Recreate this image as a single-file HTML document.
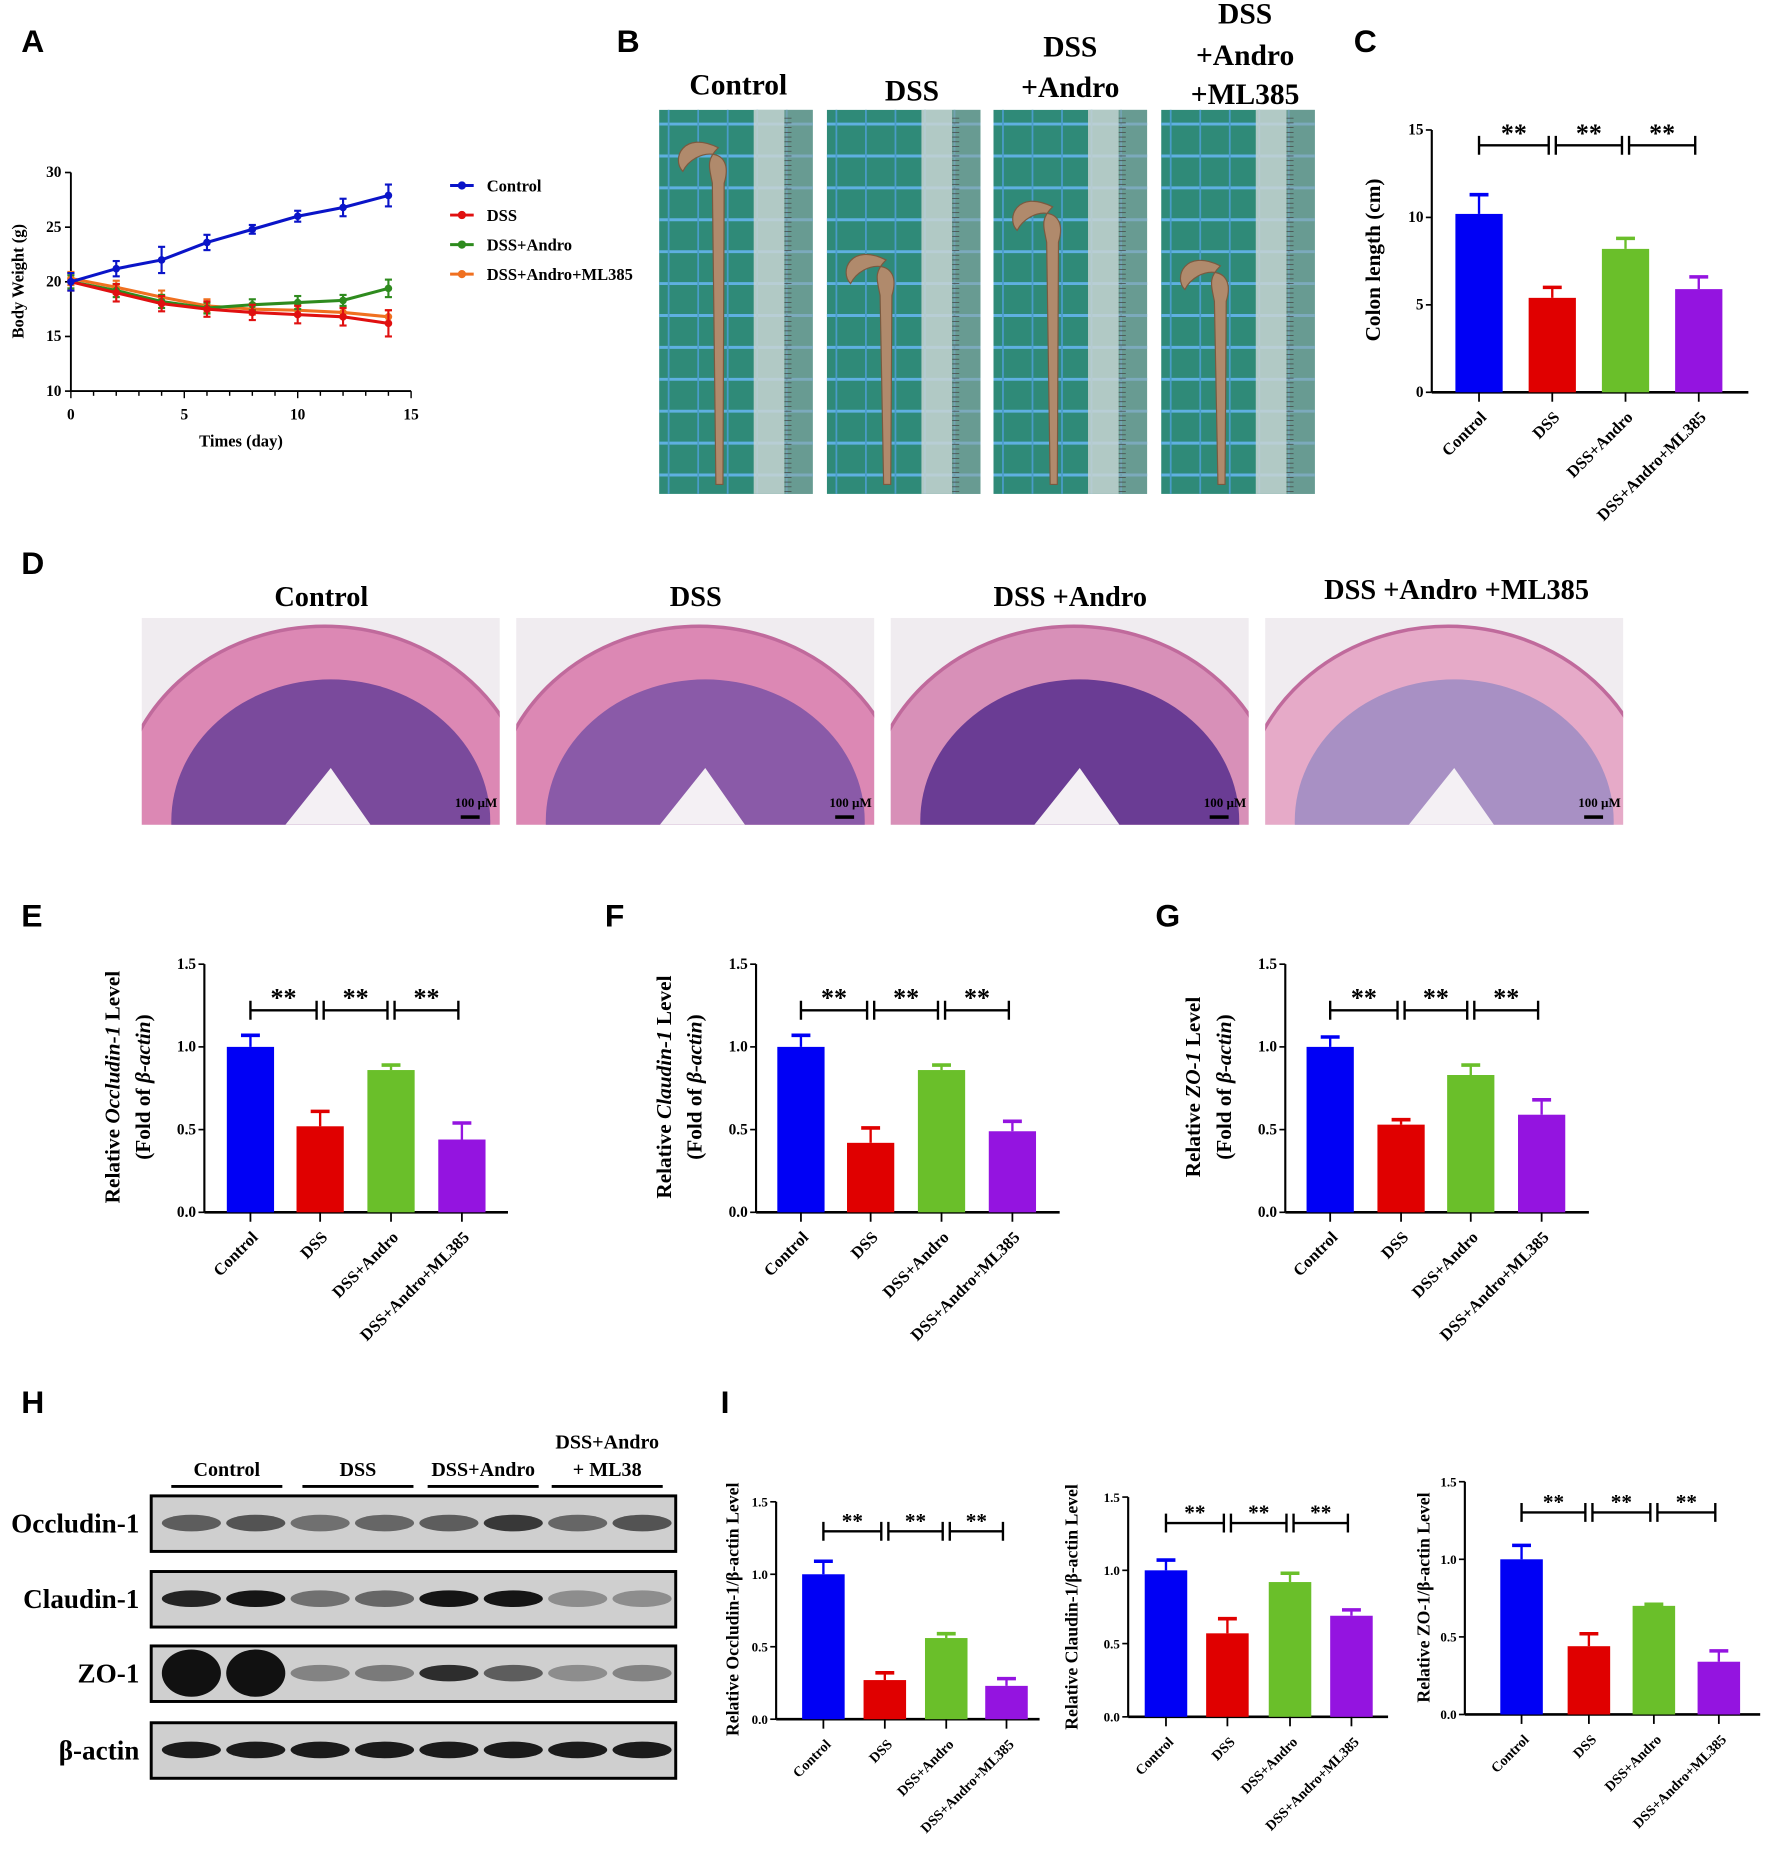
<!DOCTYPE html>
<html><head><meta charset="utf-8"><style>
html,body{margin:0;padding:0;background:#fff;}
svg{display:block;font-family:"Liberation Serif",serif;}
.pl{font-family:"Liberation Sans",sans-serif;font-weight:bold;font-size:27px;}
.tt{font-weight:bold;font-size:25px;}
.tk{font-weight:bold;font-size:13px;}
.lb{font-weight:bold;font-size:15px;}
</style></head><body>
<svg id="fig" width="1772" height="1861" viewBox="0 0 1500 1575" preserveAspectRatio="none" xmlns="http://www.w3.org/2000/svg">
<rect width="1500" height="1575" fill="#fff"/>
<text class="pl" x="18" y="44">A</text>
<text class="pl" x="522" y="44">B</text>
<text class="pl" x="1146" y="44">C</text>
<text class="pl" x="18" y="486">D</text>
<text class="pl" x="18" y="784">E</text>
<text class="pl" x="512" y="784">F</text>
<text class="pl" x="978" y="784">G</text>
<text class="pl" x="18" y="1196">H</text>
<text class="pl" x="610" y="1196">I</text>

<g class="tt" text-anchor="middle">
<text x="625" y="80">Control</text>
<text x="772" y="85">DSS</text>
<text x="906" y="48">DSS</text>
<text x="906" y="82">+Andro</text>
<text x="1054" y="20">DSS</text>
<text x="1054" y="55">+Andro</text>
<text x="1054" y="88">+ML385</text>
</g>
<g id="photos"></g>

<g class="tt" text-anchor="middle" style="font-size:24px">
<text x="272" y="513">Control</text>
<text x="589" y="513">DSS</text>
<text x="906" y="513">DSS +Andro</text>
<text x="1233" y="507">DSS +Andro +ML385</text>
</g>
<g id="histo"></g>

<g id="blot"></g>

<g id="charts"></g>
</svg>
<script>
const NS="http://www.w3.org/2000/svg";
function mk(parent,tag,attrs,text){const e=document.createElementNS(NS,tag);for(const k in attrs)e.setAttribute(k,attrs[k]);if(text!==undefined)e.textContent=text;parent.appendChild(e);return e;}
const charts=document.getElementById('charts');
const COLORS=['#0000f5','#e00000','#6abf2a','#9414e0'];

const daysA=[0,2,4,6,8,10,12,14];
const ctrlA=[20,21.2,22,23.6,24.8,26,26.8,27.9];
const ctrlErrA=[0.8,0.7,1.2,0.7,0.4,0.5,0.8,1.0];
const dssA=[20,19,18,17.5,17.2,17,16.8,16.2];
const dssErrA=[0.8,0.8,0.7,0.7,0.7,0.8,0.8,1.2];
const androA=[20,19.2,18.2,17.6,17.9,18.1,18.3,19.4];
const androErrA=[0.6,0.6,0.6,0.5,0.5,0.6,0.5,0.8];
const mlA=[20.3,19.5,18.6,17.8,17.5,17.4,17.2,16.8];
const mlErrA=[0.6,0.6,0.6,0.6,0.5,0.5,0.5,0.6];
const seriesNamesA=['Control','DSS','DSS+Andro','DSS+Andro+ML385'];
const yTicksA=[10,15,20,25,30];
const xTicksA=[0,5,10,15];

const cats=['Control','DSS','DSS+Andro','DSS+Andro+ML385'];
const valsC=[10.2,5.4,8.2,5.9]; const errC=[1.1,0.6,0.6,0.7]; const ticksC=[0,5,10,15];
const valsE=[1.0,0.52,0.86,0.44]; const errE=[0.07,0.09,0.03,0.1];
const valsF=[1.0,0.42,0.86,0.49]; const errF=[0.07,0.09,0.03,0.06];
const valsG=[1.0,0.53,0.83,0.59]; const errG=[0.06,0.03,0.06,0.09];
const valsI1=[1.0,0.27,0.56,0.23]; const errI1=[0.09,0.05,0.03,0.05];
const valsI2=[1.0,0.57,0.92,0.69]; const errI2=[0.07,0.1,0.06,0.04];
const valsI3=[1.0,0.44,0.70,0.34]; const errI3=[0.09,0.08,0.01,0.07];
const ticks15=[0,0.5,1.0,1.5];

(function(){
  const g=mk(charts,'g',{});
  
  
  const x0=60,x1=348,y0=331,y1=146;
  const X=d=>x0+(d-0)/15*(x1-x0), Y=v=>y0-(v-10)/20*(y0-y1);
  mk(g,'line',{x1:x0,y1:y1,x2:x0,y2:y0,stroke:'#000','stroke-width':1.6});
  mk(g,'line',{x1:x0,y1:y0,x2:x1,y2:y0,stroke:'#000','stroke-width':1.6});
  yTicksA.forEach(t=>{mk(g,'line',{x1:x0-5,y1:Y(t),x2:x0,y2:Y(t),stroke:'#000','stroke-width':1.4});
    mk(g,'text',{x:x0-8,y:Y(t)+4,'text-anchor':'end',class:'tk'},t);});
  for(let d=0;d<=15;d++){mk(g,'line',{x1:X(d),y1:y0,x2:X(d),y2:y0+(d%5==0?6:4),stroke:'#000','stroke-width':1.2});}
  xTicksA.forEach(t=>mk(g,'text',{x:X(t),y:y0+24,'text-anchor':'middle',class:'tk'},t));
  mk(g,'text',{x:204,y:378,'text-anchor':'middle',class:'lb',style:'font-size:14px'},'Times (day)');
  mk(g,'text',{x:0,y:0,'text-anchor':'middle',class:'lb',style:'font-size:14px',transform:'translate(20,238) rotate(-90)'},'Body Weight (g)');
  const sets=[[mlA,mlErrA,'#f07020'],[androA,androErrA,'#2e8b1e'],[dssA,dssErrA,'#e01010'],[ctrlA,ctrlErrA,'#0a14c8']];
  sets.forEach(([v,e,c],si)=>{
    const pts=daysA.map((d,i)=>X(d)+','+Y(v[i])).join(' ');
    const pl=mk(g,'polyline',{points:pts,fill:'none',stroke:c,'stroke-width':2.6});
    
    
    daysA.forEach((d,i)=>{
      const cx=X(d),cy=Y(v[i]);
      mk(g,'line',{x1:cx,y1:Y(v[i]+e[i]),x2:cx,y2:Y(v[i]-e[i]),stroke:c,'stroke-width':1.8});
      mk(g,'line',{x1:cx-3,y1:Y(v[i]+e[i]),x2:cx+3,y2:Y(v[i]+e[i]),stroke:c,'stroke-width':1.8});
      mk(g,'line',{x1:cx-3,y1:Y(v[i]-e[i]),x2:cx+3,y2:Y(v[i]-e[i]),stroke:c,'stroke-width':1.8});
      const p=mk(g,'circle',{cx:cx,cy:cy,r:3.2,fill:c});
      
      
    });
  });
  const lc=['#0a14c8','#e01010','#2e8b1e','#f07020'];
  seriesNamesA.forEach((n,i)=>{
    const y=157+i*25;
    const le=mk(g,'g',{});
    
    
    mk(le,'line',{x1:381,y1:y,x2:401,y2:y,stroke:lc[i],'stroke-width':2.5});
    mk(le,'circle',{cx:391,cy:y,r:3.5,fill:lc[i]});
    mk(le,'text',{x:412,y:y+5,class:'tk',style:'font-size:14px'},n);
  });
})();

function bar(cfg,vals,errs,ticks,name){
  const g=mk(charts,'g',{});
  
  
  const {ax,y0,y1,xEnd,cx,bw,max,bY,starSize,tickFs,labFs}=cfg;
  const Y=v=>y0-v/max*(y0-y1);
  mk(g,'line',{x1:ax,y1:y1,x2:ax,y2:y0,stroke:'#000','stroke-width':1.8});
  mk(g,'line',{x1:ax,y1:y0,x2:xEnd,y2:y0,stroke:'#000','stroke-width':2.2});
  ticks.forEach(t=>{mk(g,'line',{x1:ax-5,y1:Y(t),x2:ax,y2:Y(t),stroke:'#000','stroke-width':1.4});
    mk(g,'text',{x:ax-7,y:Y(t)+4,'text-anchor':'end',class:'tk',style:'font-size:'+tickFs+'px'},cfg.fmt?t.toFixed(1):t);});
  vals.forEach((v,i)=>{
    const c=cx[i];
    const r=mk(g,'rect',{x:c-bw/2,y:Y(v),width:bw,height:y0-Y(v),fill:COLORS[i]});
    
    
    const top=Y(v+errs[i]);
    mk(g,'line',{x1:c,y1:Y(v),x2:c,y2:top,stroke:COLORS[i],'stroke-width':2});
    mk(g,'line',{x1:c-8,y1:top,x2:c+8,y2:top,stroke:COLORS[i],'stroke-width':3});
    mk(g,'line',{x1:c,y1:y0,x2:c,y2:y0+8,stroke:'#000','stroke-width':1.5});
    mk(g,'text',{x:0,y:0,'text-anchor':'end',class:'tk',style:'font-size:'+labFs+'px',transform:`translate(${c+7},${y0+22}) rotate(-45)`},cats[i]);
  });
  for(let i=0;i<3;i++){
    const a=cx[i]+(i==0?0:3),b=cx[i+1]-3;
    mk(g,'path',{d:`M${a} ${bY+8}V${bY-8}M${a} ${bY}H${b}M${b} ${bY+8}V${bY-8}`,stroke:'#000','stroke-width':2,fill:'none'});
    mk(g,'text',{x:(a+b)/2,y:bY-3,'text-anchor':'middle',class:'tk',style:'font-size:'+starSize+'px'},'**');
  }
  return g;
}
bar({ax:1212,y0:332,y1:110,xEnd:1480,cx:[1252,1314,1376,1438],bw:40,max:15,bY:123,starSize:22,tickFs:13,labFs:14},valsC,errC,ticksC,'colon-length-chart');
mk(charts,'text',{x:0,y:0,'text-anchor':'middle',class:'lb',style:'font-size:18px',transform:'translate(1168,220) rotate(-90)'},'Colon length (cm)');

const eCfg={y0:1026,y1:816,max:1.5,bw:40,starSize:22,tickFs:13,labFs:14,fmt:true,bY:855};
bar(Object.assign({},eCfg,{ax:173,xEnd:430,cx:[212,271,331,391]}),valsE,errE,ticks15,'occludin-mrna-chart');
bar(Object.assign({},eCfg,{ax:640,xEnd:897,cx:[678,737,797,857]}),valsF,errF,ticks15,'claudin-mrna-chart');
bar(Object.assign({},eCfg,{ax:1088,xEnd:1345,cx:[1126,1186,1245,1305]}),valsG,errG,ticks15,'zo1-mrna-chart');
function ytitle(x,y,html,fs){const t=mk(charts,'text',{x:0,y:0,'text-anchor':'middle',class:'lb',style:'font-size:'+fs+'px',transform:`translate(${x},${y}) rotate(-90)`});t.innerHTML=html;return t;}
ytitle(101,920,'Relative <tspan font-style="italic">Occludin-1</tspan> Level',18);
ytitle(127,920,'(Fold of <tspan font-style="italic">β-actin</tspan>)',18);
ytitle(568,920,'Relative <tspan font-style="italic">Claudin-1</tspan> Level',18);
ytitle(594,920,'(Fold of <tspan font-style="italic">β-actin</tspan>)',18);
ytitle(1016,920,'Relative <tspan font-style="italic">ZO-1</tspan> Level',18);
ytitle(1042,920,'(Fold of <tspan font-style="italic">β-actin</tspan>)',18);

const iCfg={max:1.5,bw:36,starSize:18,tickFs:11,labFs:12,fmt:true};
bar(Object.assign({},iCfg,{ax:657,y0:1455,y1:1271,xEnd:880,cx:[697,749,801,852],bY:1296}),valsI1,errI1,ticks15,'occludin-protein-chart');
bar(Object.assign({},iCfg,{ax:955,y0:1453,y1:1267,xEnd:1175,cx:[987,1039,1092,1144],bY:1289}),valsI2,errI2,ticks15,'claudin-protein-chart');
bar(Object.assign({},iCfg,{ax:1240,y0:1451,y1:1254,xEnd:1490,cx:[1288,1345,1400,1455],bY:1280}),valsI3,errI3,ticks15,'zo1-protein-chart');
ytitle(625,1362,'Relative Occludin-1/β-actin Level',15);
ytitle(912,1360,'Relative Claudin-1/β-actin Level',15);
ytitle(1210,1352,'Relative ZO-1/β-actin Level',15);

(function(){
  const g=document.getElementById('photos');
  const xs=[558,700,841,983];
  const tops=[115,210,165,215];
  xs.forEach((x,k)=>{
    const p=mk(g,'g',{});
    
    
    mk(p,'rect',{x:x,y:93,width:130,height:325,fill:'#2f8a78'});
    for(let yy=105;yy<418;yy+=27)mk(p,'line',{x1:x,y1:yy,x2:x+130,y2:yy,stroke:'#5fb0e0','stroke-width':2.5});
    for(let xx=x+8;xx<x+130;xx+=25)mk(p,'line',{x1:xx,y1:93,x2:xx,y2:418,stroke:'#4a9cc8','stroke-width':1.5});
    const rx=x+80;
    mk(p,'rect',{x:rx,y:93,width:26,height:325,fill:'#c8d4d2',opacity:0.85});
    mk(p,'rect',{x:rx+26,y:93,width:24,height:325,fill:'#8fa6a4',opacity:0.6});
    for(let yy=100;yy<418;yy+=4)mk(p,'line',{x1:rx+26,y1:yy,x2:rx+32,y2:yy,stroke:'#444','stroke-width':0.6});
    const cxp=x+50,t=tops[k];
    mk(p,'path',{d:`M${cxp} ${t+10} C${cxp-30} ${t-5},${cxp-40} ${t+20},${cxp-30} ${t+30} C${cxp-20} ${t+10},${cxp+15} ${t+8},${cxp+5} ${t+40} L${cxp+4} 410 L${cxp-2} 410 L${cxp-5} ${t+40} C${cxp-8} ${t+25},${cxp-10} ${t+20},${cxp} ${t+10}Z`,fill:'#b08a6c',stroke:'#7a5a40','stroke-width':1});
  });
})();

(function(){
  const g=document.getElementById('histo');
  const xs=[120,437,754,1071];
  const inner=['#7a4a9c','#8a5aa8','#6a3c94','#a890c4'];
  const outer=['#dc88b4','#dc88b4','#d890b8','#e6aac8'];
  xs.forEach((x,k)=>{
    const p=mk(g,'g',{});
    
    
    mk(p,'rect',{x:x,y:523,width:303,height:175,fill:'#f0ecf0'});
    const cp=mk(p,'clipPath',{id:'hc'+k});
    mk(cp,'rect',{x:x,y:523,width:303,height:175});
    const c=mk(p,'g',{'clip-path':`url(#hc${k})`});
    mk(c,'ellipse',{cx:x+155,cy:690,rx:175,ry:160,fill:outer[k],stroke:'#c06a9c','stroke-width':3});
    mk(c,'ellipse',{cx:x+160,cy:695,rx:135,ry:120,fill:inner[k]});
    mk(c,'path',{d:`M${x+120} 700 L${x+160} 650 L${x+195} 700Z`,fill:'#f4f0f4'});
    mk(p,'text',{x:x+283,y:683,'text-anchor':'middle',class:'tk',style:'font-size:11px'},'100 µM');
    mk(p,'rect',{x:x+270,y:690,width:16,height:3,fill:'#000'});
  });
})();

(function(){
  const g=document.getElementById('blot');
  const groups=['Control','DSS','DSS+Andro','+ ML38'];
  const gx=[192,303,409,514];
  groups.forEach((n,i)=>{
    mk(g,'text',{x:gx[i],y:1249,'text-anchor':'middle',class:'lb',style:'font-size:17px'},n);
    mk(g,'line',{x1:gx[i]-47,y1:1258,x2:gx[i]+47,y2:1258,stroke:'#000','stroke-width':2.5});
  });
  mk(g,'text',{x:514,y:1226,'text-anchor':'middle',class:'lb',style:'font-size:17px'},'DSS+Andro');
  const rows=['Occludin-1','Claudin-1','ZO-1','β-actin'];
  const ry=[1266,1330,1393,1458];
  const inten=[[.6,.65,.5,.55,.6,.8,.55,.65],[.9,.98,.5,.55,.98,.98,.35,.35],[1,1,.4,.45,.85,.6,.35,.4],[.95,.95,.95,.95,.95,.95,.95,.95]];
  rows.forEach((n,r)=>{
    const p=mk(g,'g',{});
    
    
    mk(p,'text',{x:118,y:ry[r]+31,'text-anchor':'end',class:'lb',style:'font-size:23px'},n);
    mk(p,'rect',{x:128,y:ry[r],width:444,height:47,fill:'#cfcfcf',stroke:'#000','stroke-width':2.5});
    for(let l=0;l<8;l++){
      const lx=140+l*54.5;
      const h=r==2&&l<2?40:14;
      mk(p,'ellipse',{cx:lx+22,cy:ry[r]+23,rx:25,ry:h/2,fill:'#111',opacity:inten[r][l]});
    }
  });
})();
</script>
</body></html>
